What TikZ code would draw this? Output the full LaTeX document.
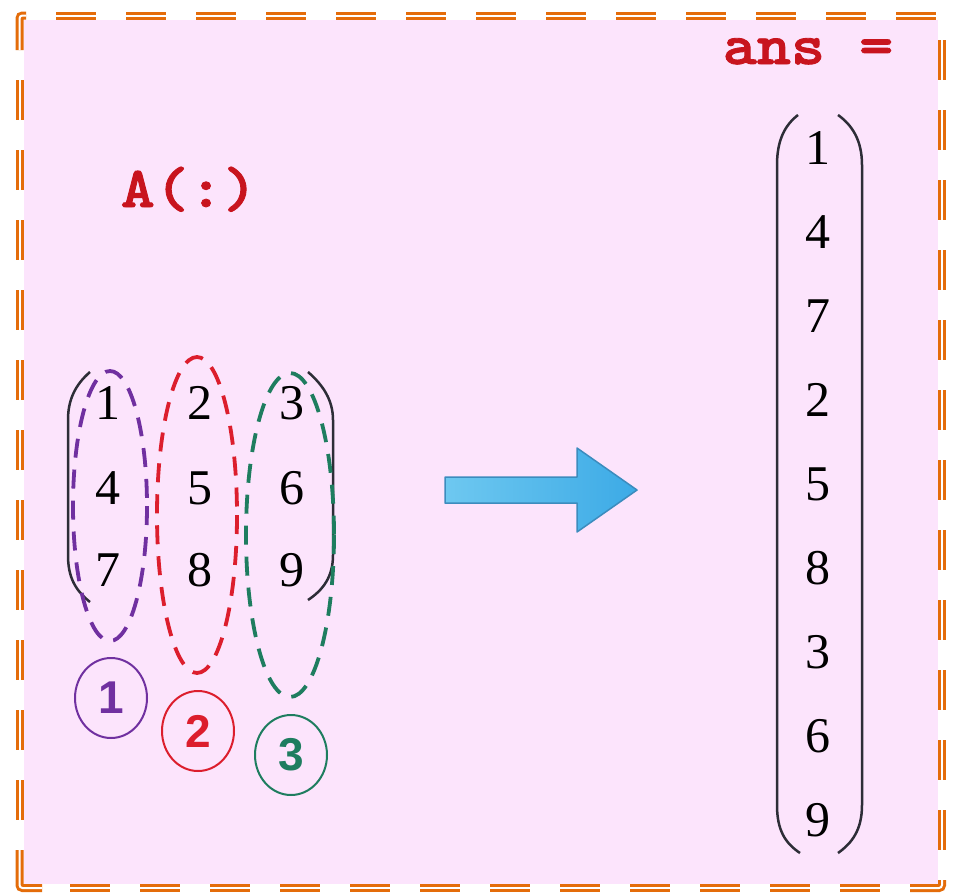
\documentclass[tikz,border=0pt]{standalone}
\usepackage{fontspec}
\setmainfont{Liberation Serif}
\newfontfamily\monofam{lmmonolt10-bold.otf}[AutoFakeBold=1.5,FakeStretch=1.12]
\newfontfamily\sansfam{Liberation Sans}
\usetikzlibrary{shapes.geometric}
\definecolor{bgpink}{RGB}{252,228,252}
\definecolor{bord}{RGB}{228,108,10}
\definecolor{codered}{RGB}{200,20,30}
\definecolor{lpurple}{RGB}{112,48,160}
\definecolor{lred}{RGB}{220,30,45}
\definecolor{lgreen}{RGB}{30,125,95}
\definecolor{arrowleft}{RGB}{110,200,240}
\definecolor{arrowright}{RGB}{60,170,230}
\definecolor{arrowdraw}{RGB}{60,140,190}
\definecolor{parcol}{RGB}{45,45,55}
\begin{document}
\begin{tikzpicture}[x=1pt,y=-1pt,
  bseg/.style={draw=bord, line width=3pt, double=white, double distance=2pt},
  code/.style={font=\monofam\bfseries\fontsize{58}{58}\selectfont, text=codered, inner sep=0pt},
  dig/.style={font=\fontsize{50}{50}\selectfont, text=black, inner sep=0pt},
  loopline/.style={line width=3.8pt, dash pattern=on 19pt off 12pt},
  paren/.style={draw=parcol, line width=2.5pt},
  numring/.style={ellipse, draw, line width=2pt, minimum width=72pt, minimum height=80pt, inner sep=0pt, font=\sansfam\bfseries\fontsize{46}{46}\selectfont}
]
\useasboundingbox (0,0) rectangle (953,894);
\fill[white] (0,0) rectangle (953,894);
\fill[bgpink] (24,20) rectangle (938,884);

% border
\draw[bseg, rounded corners=3pt] (19.5,50) -- (19.5,15.5) -- (26,15.5);
\foreach \k in {0,...,12} {
  \draw[bseg] ({56+70*\k},15.5) -- ({96+70*\k},15.5);
}
\foreach \k in {0,...,11} {
  \draw[bseg] (942,{40+70*\k}) -- (942,{80+70*\k});
  \draw[bseg] ({70+70*\k},888) -- ({110+70*\k},888);
}
\draw[bseg, rounded corners=3pt] (942,880) -- (942,888) -- (910,888);
\draw[bseg, rounded corners=3pt] (42,888) -- (19.5,888) -- (19.5,850);
\foreach \k in {0,...,10} {
  \draw[bseg] (19.5,{80+70*\k}) -- (19.5,{120+70*\k});
}

% labels
\node[code, anchor=base] (lblA) at (189,207) {A(:)};
\node[code, anchor=base] (lblans) at (808,64) {ans =};

% left matrix
\draw[paren] (90,372) .. controls (75,385) and (68,400) .. (68,420) -- (68,555) .. controls (68,577) and (75,590) .. (90,602);
\draw[paren] (308,372) .. controls (323,385) and (333,400) .. (333,420) -- (333,555) .. controls (333,577) and (323,590) .. (308,600);
\node[dig] (m11) at (108,403) {1};
\node[dig] (m12) at (200,403) {2};
\node[dig] (m13) at (292,403) {3};
\node[dig] (m21) at (108,488) {4};
\node[dig] (m22) at (200,488) {5};
\node[dig] (m23) at (292,488) {6};
\node[dig] (m31) at (108,570) {7};
\node[dig] (m32) at (200,570) {8};
\node[dig] (m33) at (292,570) {9};

% column loops
\draw[loopline, lpurple] (110,506) ellipse [x radius=37, y radius=135];
\draw[loopline, lred] (197,515) ellipse [x radius=40, y radius=158];
\draw[loopline, lgreen] (290,535) ellipse [x radius=44, y radius=162];

% numbered rings
\node[numring, draw=lpurple, text=lpurple] (r1) at (111,698) {1};
\node[numring, draw=lred, text=lred] (r2) at (198,731) {2};
\node[numring, draw=lgreen, text=lgreen] (r3) at (291,755) {3};

% arrow
\draw[left color=arrowleft, right color=arrowright, draw=arrowdraw, line width=1.5pt, line join=round]
  (445,477) -- (577,477) -- (577,448) -- (637,490) -- (577,532) -- (577,503) -- (445,503) -- cycle;

% result column
\draw[paren] (798,115) .. controls (785,125) and (777,140) .. (777,165) -- (777,805) .. controls (777,830) and (785,843) .. (800,853);
\draw[paren] (838,115) .. controls (852,125) and (862,140) .. (862,165) -- (862,805) .. controls (862,830) and (852,843) .. (838,853);
\foreach \v [count=\i from 0] in {1,4,7,2,5,8,3,6,9} {
  \node[dig] (v\i) at (818,{148+84*\i}) {\v};
}
\end{tikzpicture}
\end{document}
